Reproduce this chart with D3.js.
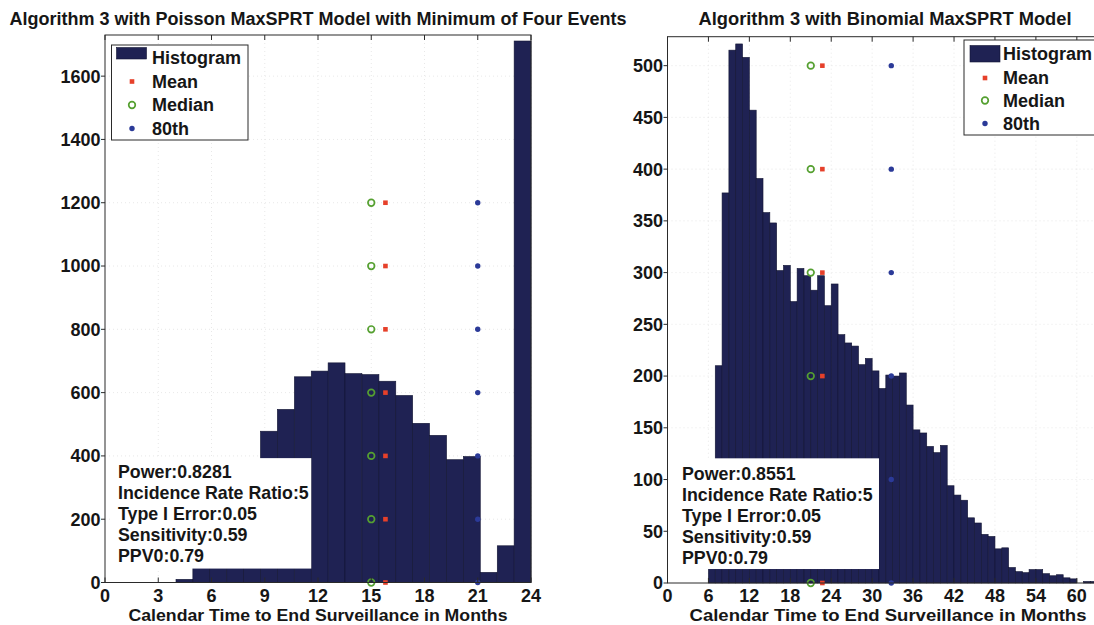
<!DOCTYPE html>
<html>
<head>
<meta charset="utf-8">
<script src="https://cdn.jsdelivr.net/npm/d3@7"></script>
<style>
  body { margin: 0; background: #fff; }
  svg text {
    font-family: "Liberation Sans", Arial, Helvetica, sans-serif;
    font-weight: bold;
    fill: #161616;
  }
</style>
</head>
<body>
<svg id="chart" width="1094" height="625"></svg>
<script>
  // ---- left panel: Poisson MaxSPRT, minimum of four events ----
  const leftBinStarts = [4.00, 4.95, 5.90, 6.86, 7.81, 8.76, 9.71, 10.67, 11.62, 12.57, 13.52,
                         14.48, 15.43, 16.38, 17.33, 18.29, 19.24, 20.19, 21.14, 22.10, 23.05];
  // bins 1-4 sit behind the annotation box, their height is a guess
  const leftCounts = [10, 70, 140, 220, 330, 478, 547, 650, 668, 694, 660,
                      657, 636, 591, 503, 465, 388, 398, 32, 116, 1711];
  const leftXTicks = [0, 3, 6, 9, 12, 15, 18, 21, 24];
  const leftYTicks = [0, 200, 400, 600, 800, 1000, 1200, 1400, 1600];
  const leftMeanX = 15.8;
  const leftMedianX = 15;
  const leftP80X = 21;
  const leftMarkerLevels = [0, 200, 400, 600, 800, 1000, 1200];
  const leftNotes = ['Power:0.8281', 'Incidence Rate Ratio:5', 'Type I Error:0.05',
                     'Sensitivity:0.59', 'PPV0:0.79'];

  // ---- right panel: Binomial MaxSPRT ----
  const rightBinStarts = [6, 7, 8, 9, 10, 11, 12, 13, 14, 15, 16, 17, 18, 19, 20, 21, 22, 23, 24,
                          25, 26, 27, 28, 29, 30, 31, 32, 33, 34, 35, 36, 37, 38, 39, 40, 41, 42,
                          43, 44, 45, 46, 47, 48, 49, 50, 51, 52, 53, 54, 55, 56, 57, 58, 59, 60,
                          61, 62];
  // bin 6 is hidden behind the annotation box, its height is a guess
  const rightCounts = [60, 210, 377, 515, 521, 508, 457, 391, 358, 348, 302, 307, 272, 304, 297,
                       283, 297, 268, 289, 240, 232, 229, 211, 217, 205, 188, 201, 200, 203, 172,
                       148, 145, 132, 126, 133, 94, 85, 80, 63, 58, 47, 45, 33, 34, 15, 11, 10,
                       13, 13, 9, 7, 8, 5, 4, 0, 1.5, 1.5];
  const rightXTicks = [0, 6, 12, 18, 24, 30, 36, 42, 48, 54, 60];
  const rightYTicks = [0, 50, 100, 150, 200, 250, 300, 350, 400, 450, 500];
  const rightMeanX = 22.7;
  const rightMedianX = 21;
  const rightP80X = 32.8;
  const rightMarkerLevels = [0, 100, 200, 300, 400, 500];
  const rightNotes = ['Power:0.8551', 'Incidence Rate Ratio:5', 'Type I Error:0.05',
                      'Sensitivity:0.59', 'PPV0:0.79'];

  const legendLabels = ['Histogram', 'Mean', 'Median', '80th'];
  const xLabel = 'Calendar Time to End Surveillance in Months';

  const barFill = '#1f2253';
  const barEdge = '#121433';
  const red = '#e6402a';
  const green = '#55a030';
  const blue = '#2b3a98';

  const svg = d3.select('#chart');

  function drawPanel(p) {
    const x = d3.scaleLinear().domain([0, p.xMax]).range([p.left, p.right]);
    const y = d3.scaleLinear().domain([0, p.yMax]).range([p.bottom, p.top]);
    const g = svg.append('g');

    // faint dotted grid
    const grid = g.append('g')
      .attr('stroke', '#e2e2e2')
      .attr('stroke-width', 0.8)
      .attr('stroke-dasharray', '1,3');
    grid.selectAll('.gx').data(p.xTicks.slice(1)).join('line')
      .attr('x1', d => x(d)).attr('x2', d => x(d))
      .attr('y1', p.top).attr('y2', p.bottom);
    grid.selectAll('.gy').data(p.yTicks.slice(1)).join('line')
      .attr('x1', p.left).attr('x2', p.right)
      .attr('y1', d => y(d)).attr('y2', d => y(d));

    // histogram bars
    const bars = d3.zip(p.binStarts, p.counts);
    g.append('g').selectAll('rect').data(bars).join('rect')
      .attr('x', d => x(d[0]))
      .attr('width', d => x(d[0] + p.binWidth) - x(d[0]))
      .attr('y', d => y(d[1]))
      .attr('height', d => y(0) - y(d[1]))
      .attr('fill', barFill)
      .attr('stroke', barEdge)
      .attr('stroke-width', 0.6);

    // mean / median / 80th markers stacked at several heights
    const mk = g.append('g');
    mk.selectAll('.mean').data(p.levels).join('rect')
      .attr('x', x(p.meanX) - 2.3).attr('y', d => y(d) - 2.3)
      .attr('width', 4.6).attr('height', 4.6)
      .attr('fill', red);
    mk.selectAll('.median').data(p.levels).join('circle')
      .attr('cx', x(p.medianX)).attr('cy', d => y(d)).attr('r', 3.3)
      .attr('fill', 'none').attr('stroke', green).attr('stroke-width', 1.7);
    mk.selectAll('.p80').data(p.levels).join('circle')
      .attr('cx', x(p.p80X)).attr('cy', d => y(d)).attr('r', 2.7)
      .attr('fill', blue);

    // annotation box (white, covers part of the bars)
    g.append('rect')
      .attr('x', x(p.box[0])).attr('y', y(p.box[3]))
      .attr('width', x(p.box[1]) - x(p.box[0]))
      .attr('height', y(p.box[2]) - y(p.box[3]))
      .attr('fill', '#fff');
    g.append('g').selectAll('text').data(p.notes).join('text')
      .attr('x', p.noteX)
      .attr('y', (d, i) => p.noteY + i * p.noteStep + 6.3)
      .attr('font-size', '17.8px')
      .text(d => d);

    // frame and ticks
    g.append('rect')
      .attr('x', p.left).attr('y', p.top)
      .attr('width', p.right - p.left).attr('height', p.bottom - p.top)
      .attr('fill', 'none').attr('stroke', '#2a2a2a').attr('stroke-width', 1);
    const tk = g.append('g').attr('stroke', '#2a2a2a').attr('stroke-width', 1);
    tk.selectAll('.xb').data(p.xTicks).join('line')
      .attr('x1', d => x(d)).attr('x2', d => x(d))
      .attr('y1', p.bottom).attr('y2', p.bottom - 5);
    tk.selectAll('.xt').data(p.xTicks).join('line')
      .attr('x1', d => x(d)).attr('x2', d => x(d))
      .attr('y1', p.top).attr('y2', p.top + 5);
    tk.selectAll('.yl').data(p.yTicks).join('line')
      .attr('x1', p.left - 4).attr('x2', p.left)
      .attr('y1', d => y(d)).attr('y2', d => y(d));

    g.append('g').selectAll('text').data(p.xTicks).join('text')
      .attr('x', d => x(d)).attr('y', p.bottom + 19)
      .attr('text-anchor', 'middle')
      .attr('font-size', '18px')
      .text(d => d);
    g.append('g').selectAll('text').data(p.yTicks).join('text')
      .attr('x', p.left - 4.5).attr('y', d => y(d) + 6.4)
      .attr('text-anchor', 'end')
      .attr('font-size', '18px')
      .text(d => d);

    // titles
    g.append('text')
      .attr('x', p.titleX).attr('y', 24.5)
      .attr('text-anchor', 'middle')
      .attr('font-size', '18px')
      .attr('textLength', p.titleLen).attr('lengthAdjust', 'spacingAndGlyphs')
      .text(p.title);
    g.append('text')
      .attr('x', p.xLabelX).attr('y', p.xLabelY)
      .attr('text-anchor', 'middle')
      .attr('font-size', '16.5px')
      .attr('textLength', p.xLabelLen).attr('lengthAdjust', 'spacingAndGlyphs')
      .text(xLabel);

    // legend
    const L = p.legend;
    const lg = g.append('g');
    lg.append('rect')
      .attr('x', L.x).attr('y', L.y).attr('width', L.w).attr('height', L.h)
      .attr('fill', '#fff').attr('stroke', '#2a2a2a').attr('stroke-width', 1);
    lg.append('rect')
      .attr('x', L.patchX).attr('y', L.patchY)
      .attr('width', 30).attr('height', L.patchH)
      .attr('fill', barFill).attr('stroke', barEdge).attr('stroke-width', 0.6);
    lg.append('rect')
      .attr('x', L.markX - 2.3).attr('y', L.rows[1] - 2.3)
      .attr('width', 4.6).attr('height', 4.6).attr('fill', red);
    lg.append('circle')
      .attr('cx', L.markX).attr('cy', L.rows[2]).attr('r', 3.3)
      .attr('fill', 'none').attr('stroke', green).attr('stroke-width', 1.7);
    lg.append('circle')
      .attr('cx', L.markX).attr('cy', L.rows[3]).attr('r', 2.7)
      .attr('fill', blue);
    lg.selectAll('text').data(legendLabels).join('text')
      .attr('x', L.textX)
      .attr('y', (d, i) => L.rows[i] + 6.4)
      .attr('font-size', '18px')
      .text(d => d);
  }

  drawPanel({
    left: 105, right: 531, top: 35, bottom: 582.5,
    xMax: 24, yMax: 1730, binWidth: 0.952,
    binStarts: leftBinStarts, counts: leftCounts,
    xTicks: leftXTicks, yTicks: leftYTicks,
    meanX: leftMeanX, medianX: leftMedianX, p80X: leftP80X, levels: leftMarkerLevels,
    box: [0.3, 11.62, 44, 393], notes: leftNotes, noteX: 118, noteY: 472, noteStep: 21,
    title: 'Algorithm 3 with Poisson MaxSPRT Model with Minimum of Four Events',
    titleX: 318, titleLen: 617,
    xLabelX: 318, xLabelY: 620.5, xLabelLen: 379,
    legend: { x: 111.5, y: 45, w: 136.5, h: 95, patchX: 116.5, patchY: 47.5, patchH: 11.5,
              markX: 132, textX: 152, rows: [58, 81.5, 105, 128.5] }
  });

  drawPanel({
    left: 667.5, right: 1097.3, top: 36.7, bottom: 583,
    xMax: 63, yMax: 528, binWidth: 1,
    binStarts: rightBinStarts, counts: rightCounts,
    xTicks: rightXTicks, yTicks: rightYTicks,
    meanX: rightMeanX, medianX: rightMedianX, p80X: rightP80X, levels: rightMarkerLevels,
    box: [0.5, 31, 13.5, 120.5], notes: rightNotes, noteX: 682, noteY: 473.3, noteStep: 21.1,
    title: 'Algorithm 3 with Binomial MaxSPRT Model',
    titleX: 885, titleLen: 373,
    xLabelX: 888, xLabelY: 621, xLabelLen: 397,
    legend: { x: 964, y: 40, w: 140, h: 95, patchX: 970, patchY: 45.5, patchH: 16.5,
              markX: 985, textX: 1003, rows: [54, 78, 100.5, 123.5] }
  });
</script>
</body>
</html>
